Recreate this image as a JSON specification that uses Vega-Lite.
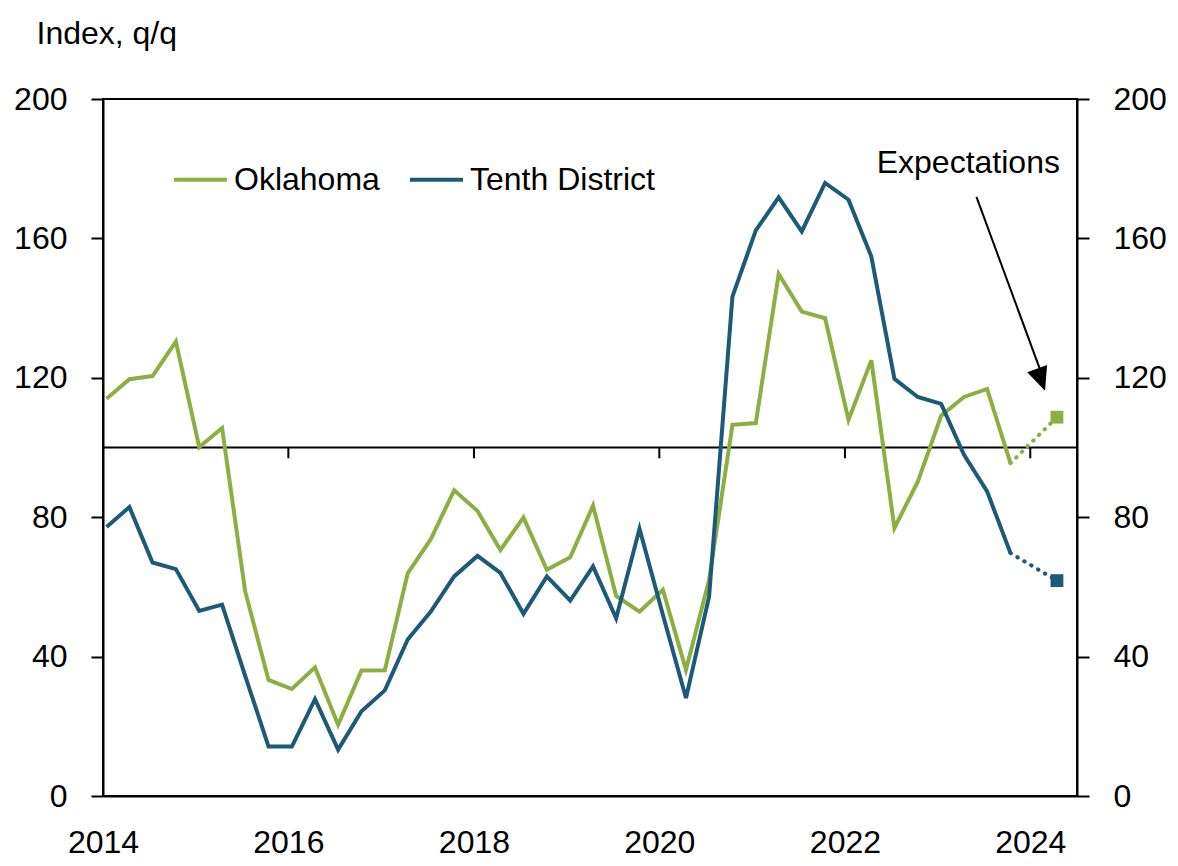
{
  "$schema": "https://vega.github.io/schema/vega-lite/v6.json",
  "width": 974,
  "height": 697,
  "autosize": {"type": "none"},
  "padding": {"left": 103, "top": 99, "right": 101, "bottom": 70},
  "background": "white",
  "config": {
    "view": {"stroke": "#000", "strokeWidth": 2},
    "font": "Liberation Sans",
    "axis": {"labelFont": "Liberation Sans", "titleFont": "Liberation Sans", "labelColor": "#000", "titleColor": "#000", "grid": false}
  },
  "datasets": {
    "actual": [
      {"date": "2014-01-15", "series": "Oklahoma", "value": 114.0},
      {"date": "2014-04-15", "series": "Oklahoma", "value": 119.6},
      {"date": "2014-07-15", "series": "Oklahoma", "value": 120.5},
      {"date": "2014-10-15", "series": "Oklahoma", "value": 130.4},
      {"date": "2015-01-15", "series": "Oklahoma", "value": 100.1},
      {"date": "2015-04-15", "series": "Oklahoma", "value": 105.6},
      {"date": "2015-07-15", "series": "Oklahoma", "value": 58.7},
      {"date": "2015-10-15", "series": "Oklahoma", "value": 33.3},
      {"date": "2016-01-15", "series": "Oklahoma", "value": 30.7},
      {"date": "2016-04-15", "series": "Oklahoma", "value": 36.9},
      {"date": "2016-07-15", "series": "Oklahoma", "value": 20.4},
      {"date": "2016-10-15", "series": "Oklahoma", "value": 36.0},
      {"date": "2017-01-15", "series": "Oklahoma", "value": 36.1},
      {"date": "2017-04-15", "series": "Oklahoma", "value": 63.9},
      {"date": "2017-07-15", "series": "Oklahoma", "value": 73.7},
      {"date": "2017-10-15", "series": "Oklahoma", "value": 87.7},
      {"date": "2018-01-15", "series": "Oklahoma", "value": 81.8},
      {"date": "2018-04-15", "series": "Oklahoma", "value": 70.6},
      {"date": "2018-07-15", "series": "Oklahoma", "value": 79.9},
      {"date": "2018-10-15", "series": "Oklahoma", "value": 64.9},
      {"date": "2019-01-15", "series": "Oklahoma", "value": 68.5},
      {"date": "2019-04-15", "series": "Oklahoma", "value": 83.3},
      {"date": "2019-07-15", "series": "Oklahoma", "value": 57.4},
      {"date": "2019-10-15", "series": "Oklahoma", "value": 52.9},
      {"date": "2020-01-15", "series": "Oklahoma", "value": 59.2},
      {"date": "2020-04-15", "series": "Oklahoma", "value": 36.2},
      {"date": "2020-07-15", "series": "Oklahoma", "value": 62.0},
      {"date": "2020-10-15", "series": "Oklahoma", "value": 106.5},
      {"date": "2021-01-15", "series": "Oklahoma", "value": 107.0},
      {"date": "2021-04-15", "series": "Oklahoma", "value": 149.8},
      {"date": "2021-07-15", "series": "Oklahoma", "value": 139.0},
      {"date": "2021-10-15", "series": "Oklahoma", "value": 137.1},
      {"date": "2022-01-15", "series": "Oklahoma", "value": 107.9},
      {"date": "2022-04-15", "series": "Oklahoma", "value": 125.0},
      {"date": "2022-07-15", "series": "Oklahoma", "value": 76.9},
      {"date": "2022-10-15", "series": "Oklahoma", "value": 90.2},
      {"date": "2023-01-15", "series": "Oklahoma", "value": 109.1},
      {"date": "2023-04-15", "series": "Oklahoma", "value": 114.5},
      {"date": "2023-07-15", "series": "Oklahoma", "value": 116.8},
      {"date": "2023-10-15", "series": "Oklahoma", "value": 95.5},
      {"date": "2014-01-15", "series": "Tenth District", "value": 77.2},
      {"date": "2014-04-15", "series": "Tenth District", "value": 82.9},
      {"date": "2014-07-15", "series": "Tenth District", "value": 67.0},
      {"date": "2014-10-15", "series": "Tenth District", "value": 65.1},
      {"date": "2015-01-15", "series": "Tenth District", "value": 53.1},
      {"date": "2015-04-15", "series": "Tenth District", "value": 54.9},
      {"date": "2015-07-15", "series": "Tenth District", "value": 34.5},
      {"date": "2015-10-15", "series": "Tenth District", "value": 14.2},
      {"date": "2016-01-15", "series": "Tenth District", "value": 14.2},
      {"date": "2016-04-15", "series": "Tenth District", "value": 27.8},
      {"date": "2016-07-15", "series": "Tenth District", "value": 13.3},
      {"date": "2016-10-15", "series": "Tenth District", "value": 24.3},
      {"date": "2017-01-15", "series": "Tenth District", "value": 30.3},
      {"date": "2017-04-15", "series": "Tenth District", "value": 44.9},
      {"date": "2017-07-15", "series": "Tenth District", "value": 52.9},
      {"date": "2017-10-15", "series": "Tenth District", "value": 63.0},
      {"date": "2018-01-15", "series": "Tenth District", "value": 68.9},
      {"date": "2018-04-15", "series": "Tenth District", "value": 64.0},
      {"date": "2018-07-15", "series": "Tenth District", "value": 52.3},
      {"date": "2018-10-15", "series": "Tenth District", "value": 63.0},
      {"date": "2019-01-15", "series": "Tenth District", "value": 56.1},
      {"date": "2019-04-15", "series": "Tenth District", "value": 65.9},
      {"date": "2019-07-15", "series": "Tenth District", "value": 51.0},
      {"date": "2019-10-15", "series": "Tenth District", "value": 76.7},
      {"date": "2020-01-15", "series": "Tenth District", "value": 52.0},
      {"date": "2020-04-15", "series": "Tenth District", "value": 28.1},
      {"date": "2020-07-15", "series": "Tenth District", "value": 57.2},
      {"date": "2020-10-15", "series": "Tenth District", "value": 143.3},
      {"date": "2021-01-15", "series": "Tenth District", "value": 162.3},
      {"date": "2021-04-15", "series": "Tenth District", "value": 171.8},
      {"date": "2021-07-15", "series": "Tenth District", "value": 162.0},
      {"date": "2021-10-15", "series": "Tenth District", "value": 175.9},
      {"date": "2022-01-15", "series": "Tenth District", "value": 171.1},
      {"date": "2022-04-15", "series": "Tenth District", "value": 154.8},
      {"date": "2022-07-15", "series": "Tenth District", "value": 119.7},
      {"date": "2022-10-15", "series": "Tenth District", "value": 114.5},
      {"date": "2023-01-15", "series": "Tenth District", "value": 112.5},
      {"date": "2023-04-15", "series": "Tenth District", "value": 97.9},
      {"date": "2023-07-15", "series": "Tenth District", "value": 87.4},
      {"date": "2023-10-15", "series": "Tenth District", "value": 69.7}
    ],
    "expect": [
      {"date": "2023-10-15", "series": "Oklahoma", "value": 95.5, "kind": "last"},
      {"date": "2024-04-15", "series": "Oklahoma", "value": 108.7, "kind": "forecast"},
      {"date": "2023-10-15", "series": "Tenth District", "value": 69.7, "kind": "last"},
      {"date": "2024-04-15", "series": "Tenth District", "value": 61.8, "kind": "forecast"}
    ],
    "ticks": [
      {"date": "2016-01-01"},
      {"date": "2018-01-01"},
      {"date": "2020-01-01"},
      {"date": "2022-01-01"},
      {"date": "2024-01-01"}
    ],
    "one": [{"label": "Expectations"}]
  },
  "resolve": {"axis": {"y": "independent"}},
  "layer": [
    {
      "data": {"name": "one"},
      "mark": {"type": "rule", "color": "#000", "strokeWidth": 2},
      "encoding": {"y": {"datum": 100, "type": "quantitative", "axis": null}}
    },
    {
      "data": {"name": "actual"},
      "mark": {"type": "line", "strokeWidth": 4, "strokeJoin": "miter"},
      "encoding": {
        "x": {
          "field": "date", "type": "temporal",
          "scale": {"type": "utc", "domain": [{"year": 2014, "month": 1, "date": 1, "utc": true}, {"year": 2024, "month": 7, "date": 3, "utc": true}]},
          "axis": {
            "orient": "bottom", "title": null, "format": "%Y",
            "values": [{"year": 2014, "month": 1, "date": 1, "utc": true}, {"year": 2016, "month": 1, "date": 1, "utc": true}, {"year": 2018, "month": 1, "date": 1, "utc": true}, {"year": 2020, "month": 1, "date": 1, "utc": true}, {"year": 2022, "month": 1, "date": 1, "utc": true}, {"year": 2024, "month": 1, "date": 1, "utc": true}],
            "ticks": false, "tickSize": 0, "domain": true, "domainColor": "#000", "domainWidth": 2,
            "labelFontSize": 32, "labelPadding": 31, "labelBaseline": "top", "labelFlush": false, "labelOverlap": false
          }
        },
        "y": {
          "field": "value", "type": "quantitative",
          "scale": {"domain": [0, 200], "nice": false, "zero": false},
          "axis": {
            "orient": "left", "values": [0, 40, 80, 120, 160, 200],
            "tickSize": 12, "tickColor": "#000", "tickWidth": 2,
            "domain": true, "domainColor": "#000", "domainWidth": 2,
            "labelFontSize": 32, "labelPadding": 24, "labelFlush": false,
            "title": "Index, q/q", "titleAngle": 0, "titleAlign": "left", "titleBaseline": "alphabetic",
            "titleX": -67, "titleY": -56, "titleFontSize": 32, "titleFontWeight": "normal"
          }
        },
        "color": {
          "field": "series", "type": "nominal",
          "scale": {"domain": ["Oklahoma", "Tenth District"], "range": ["#8CAF42", "#1B5A78"]},
          "legend": {
            "orient": "none", "legendX": 69, "legendY": 52, "direction": "horizontal", "title": null,
            "symbolType": "stroke", "symbolSize": 2809, "symbolStrokeWidth": 4,
            "labelFontSize": 32, "labelFont": "Liberation Sans", "labelColor": "#000",
            "labelOffset": 5, "columnPadding": 22, "padding": 0, "labelLimit": 400
          }
        }
      }
    },
    {
      "data": {"name": "expect"},
      "mark": {"type": "line", "strokeWidth": 4, "strokeDash": [0.5, 7.5], "strokeCap": "round"},
      "encoding": {
        "x": {"field": "date", "type": "temporal"},
        "y": {"field": "value", "type": "quantitative",
          "axis": {
            "orient": "right", "values": [0, 40, 80, 120, 160, 200],
            "tickSize": 12, "tickColor": "#000", "tickWidth": 2,
            "domain": true, "domainColor": "#000", "domainWidth": 2,
            "labelFontSize": 32, "labelPadding": 24, "labelFlush": false, "title": null
          }
        },
        "color": {"field": "series", "type": "nominal", "legend": null}
      }
    },
    {
      "data": {"name": "expect"},
      "transform": [{"filter": "datum.kind == 'forecast'"}],
      "mark": {"type": "point", "shape": "square", "filled": true, "size": 165, "opacity": 1},
      "encoding": {
        "x": {"field": "date", "type": "temporal"},
        "y": {"field": "value", "type": "quantitative", "axis": null},
        "color": {"field": "series", "type": "nominal", "legend": null}
      }
    },
    {
      "data": {"name": "ticks"},
      "mark": {"type": "rule", "color": "#000", "strokeWidth": 2},
      "encoding": {
        "x": {"field": "date", "type": "temporal"},
        "y": {"datum": 100, "type": "quantitative", "axis": null},
        "y2": {"datum": 96.9}
      }
    },
    {
      "data": {"name": "one"},
      "mark": {"type": "text", "fontSize": 32, "font": "Liberation Sans", "align": "center", "baseline": "alphabetic", "color": "#000"},
      "encoding": {
        "text": {"field": "label"},
        "x": {"datum": {"year": 2023, "month": 5, "date": 2, "utc": true}, "type": "temporal"},
        "y": {"datum": 178.8, "type": "quantitative", "axis": null}
      }
    },
    {
      "data": {"name": "one"},
      "mark": {"type": "rule", "color": "#000", "strokeWidth": 2},
      "encoding": {
        "x": {"datum": {"year": 2023, "month": 6, "date": 3, "utc": true}, "type": "temporal"},
        "y": {"datum": 171.9, "type": "quantitative", "axis": null},
        "x2": {"datum": {"year": 2024, "month": 2, "date": 18, "utc": true}},
        "y2": {"datum": 120.5}
      }
    },
    {
      "data": {"name": "one"},
      "mark": {"type": "point", "shape": "M0,0L-0.45,-1L0.45,-1Z", "filled": true, "size": 2200, "color": "#000", "angle": 340.4, "opacity": 1},
      "encoding": {
        "x": {"datum": {"year": 2024, "month": 2, "date": 28, "utc": true}, "type": "temporal"},
        "y": {"datum": 116.3, "type": "quantitative", "axis": null}
      }
    }
  ]
}
